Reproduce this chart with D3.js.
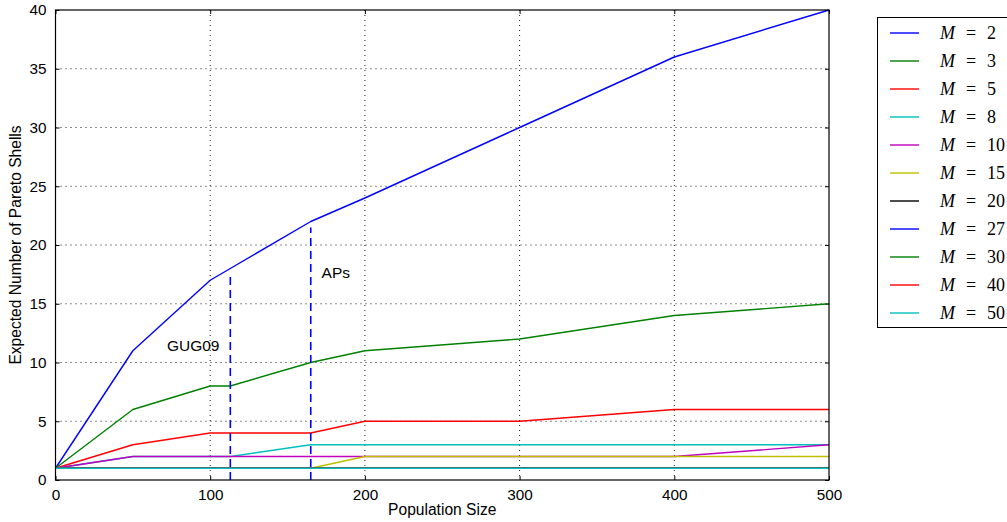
<!DOCTYPE html>
<html>
<head>
<meta charset="utf-8">
<script src="https://cdn.jsdelivr.net/npm/d3@7"></script>
<style>
  body { margin: 0; background: #fff; }
  svg { display: block; }
  text { font-family: "Liberation Sans", Arial, sans-serif; fill: #000; }
</style>
</head>
<body>
<svg id="chart" width="1007" height="522"></svg>
<script>
// Population sizes sampled
const popSizes = [0, 50, 100, 113, 165, 200, 300, 400, 500];

// Expected number of Pareto shells for each number of objectives M
const seriesNames = ["M = 2", "M = 3", "M = 5", "M = 8", "M = 10", "M = 15", "M = 20", "M = 27", "M = 30", "M = 40", "M = 50"];
const mValues = ["2", "3", "5", "8", "10", "15", "20", "27", "30", "40", "50"];
const shellsM2  = [1, 11, 17, 18, 22, 24, 30, 36, 40];
const shellsM3  = [1, 6, 8, 8, 10, 11, 12, 14, 15];
const shellsM5  = [1, 3, 4, 4, 4, 5, 5, 6, 6];
const shellsM8  = [1, 2, 2, 2, 3, 3, 3, 3, 3];
const shellsM10 = [1, 2, 2, 2, 2, 2, 2, 2, 3];
const shellsM15 = [1, 1, 1, 1, 1, 2, 2, 2, 2];
const shellsM20 = [1, 1, 1, 1, 1, 1, 1, 1, 1];
const shellsM27 = [1, 1, 1, 1, 1, 1, 1, 1, 1];
const shellsM30 = [1, 1, 1, 1, 1, 1, 1, 1, 1];
const shellsM40 = [1, 1, 1, 1, 1, 1, 1, 1, 1];
const shellsM50 = [1, 1, 1, 1, 1, 1, 1, 1, 1];
const allSeries = [shellsM2, shellsM3, shellsM5, shellsM8, shellsM10, shellsM15,
                   shellsM20, shellsM27, shellsM30, shellsM40, shellsM50];
const colors = ["#0000ff", "#008000", "#ff0000", "#00bfbf", "#bf00bf", "#bfbf00",
                "#000000", "#0000ff", "#008000", "#ff0000", "#00bfbf"];

// Reference population sizes (vertical dashed markers) and their labels
const markerNames = ["GUG09", "APs"];
const markerX = [113, 165];
const markerTop = [17.5, 21.5];
const labelX = [72, 172];
const labelY = [11, 17.2];

// Axis ticks
const xTicks = [0, 100, 200, 300, 400, 500];
const yTicks = [0, 5, 10, 15, 20, 25, 30, 35, 40];

const svg = d3.select("#chart");
const plot = { left: 55.5, right: 829, top: 10, bottom: 480 };

const x = d3.scaleLinear().domain([0, 500]).range([plot.left, plot.right]);
const y = d3.scaleLinear().domain([0, 40]).range([plot.bottom, plot.top]);

// Dotted grid
const grid = svg.append("g");
grid.selectAll("line.gx").data(xTicks.slice(1, -1)).join("line")
  .attr("x1", d => x(d)).attr("x2", d => x(d))
  .attr("y1", plot.top).attr("y2", plot.bottom)
  .attr("stroke", "#000").attr("stroke-width", 0.9).attr("stroke-dasharray", "1,4");
grid.selectAll("line.gy").data(yTicks.slice(1, -1)).join("line")
  .attr("x1", plot.left).attr("x2", plot.right)
  .attr("y1", d => y(d)).attr("y2", d => y(d))
  .attr("stroke", "#000").attr("stroke-width", 0.9).attr("stroke-dasharray", "1,4");

// Axes with inward ticks on all four sides
const tickLen = 4;
const axB = svg.append("g").attr("transform", `translate(0,${plot.bottom})`)
  .call(d3.axisBottom(x).tickValues(xTicks).tickSizeInner(-tickLen).tickSizeOuter(0).tickPadding(9));
const axT = svg.append("g").attr("transform", `translate(0,${plot.top})`)
  .call(d3.axisTop(x).tickValues(xTicks).tickSizeInner(-tickLen).tickSizeOuter(0).tickFormat(""));
const axL = svg.append("g").attr("transform", `translate(${plot.left},0)`)
  .call(d3.axisLeft(y).tickValues(yTicks).tickSizeInner(-tickLen).tickSizeOuter(0).tickPadding(9));
const axR = svg.append("g").attr("transform", `translate(${plot.right},0)`)
  .call(d3.axisRight(y).tickValues(yTicks).tickSizeInner(-tickLen).tickSizeOuter(0).tickFormat(""));
[axB, axT, axL, axR].forEach(a => {
  a.select(".domain").remove();
  a.selectAll("line").attr("stroke", "#000").attr("stroke-width", 1);
  a.selectAll("text").style("font-family", "'Liberation Sans', Arial, sans-serif")
    .style("font-size", "15.3px").attr("fill", "#000");
});

// Series lines
const line = d3.line().x((d, i) => x(popSizes[i])).y(d => y(d));
svg.append("g").selectAll("path").data(allSeries).join("path")
  .attr("d", d => line(d))
  .attr("fill", "none")
  .attr("stroke", (d, i) => colors[i])
  .attr("stroke-width", 1.4)
  .attr("stroke-linejoin", "round");

// Vertical dashed markers
svg.append("g").selectAll("line").data(markerX).join("line")
  .attr("x1", d => x(d)).attr("x2", d => x(d))
  .attr("y1", y(0)).attr("y2", (d, i) => y(markerTop[i]))
  .attr("stroke", "#0000ff").attr("stroke-width", 1.6).attr("stroke-dasharray", "8,5");

svg.append("g").selectAll("text").data(markerNames).join("text")
  .attr("x", (d, i) => x(labelX[i]))
  .attr("y", (d, i) => y(labelY[i]))
  .style("font-size", "15.5px")
  .text(d => d);

// Plot frame
svg.append("rect")
  .attr("x", plot.left).attr("y", plot.top)
  .attr("width", plot.right - plot.left).attr("height", plot.bottom - plot.top)
  .attr("fill", "none").attr("stroke", "#000").attr("stroke-width", 1.2);

// Axis titles
svg.append("text").attr("x", (plot.left + plot.right) / 2).attr("y", 515)
  .attr("text-anchor", "middle").style("font-size", "15.6px").text("Population Size");
svg.append("text")
  .attr("transform", `translate(21,${(plot.top + plot.bottom) / 2}) rotate(-90)`)
  .attr("text-anchor", "middle").style("font-size", "15.6px")
  .text("Expected Number of Pareto Shells");

// Legend
const legend = svg.append("g");
legend.append("rect").attr("x", 877.5).attr("y", 17.5).attr("width", 140).attr("height", 310)
  .attr("fill", "#fff").attr("stroke", "#000").attr("stroke-width", 1);
const rows = legend.selectAll("g.row").data(seriesNames).join("g")
  .attr("transform", (d, i) => `translate(0,${33 + i * 28})`);
rows.append("line").attr("x1", 890).attr("x2", 919).attr("y1", 0).attr("y2", 0)
  .attr("stroke", (d, i) => colors[i]).attr("stroke-width", 1.4);
const lbl = rows.append("text").attr("y", 6)
  .style("font-family", "'Liberation Serif', 'DejaVu Serif', serif").style("font-size", "18px");
lbl.append("tspan").attr("x", 940).style("font-style", "italic").text("M");
lbl.append("tspan").attr("x", 966).text("=");
lbl.append("tspan").attr("x", 987).text((d, i) => mValues[i]);
</script>
</body>
</html>
